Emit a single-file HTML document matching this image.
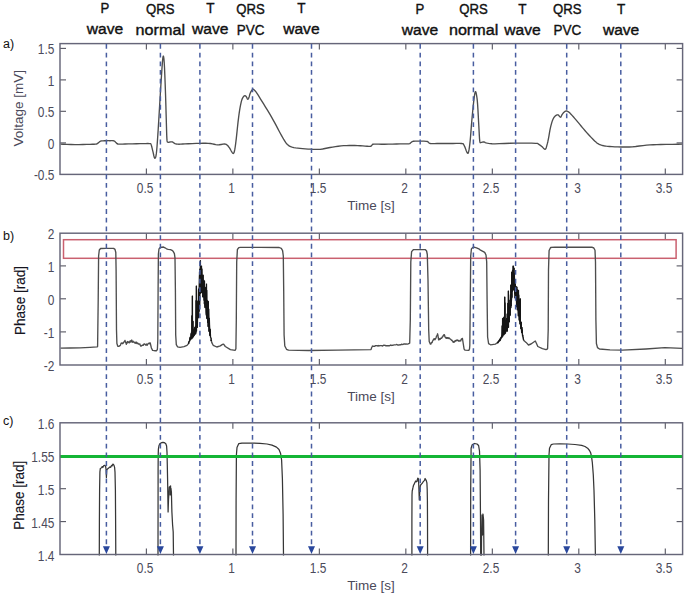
<!DOCTYPE html>
<html><head><meta charset="utf-8"><title>ECG phase figure</title>
<style>html,body{margin:0;padding:0;background:#fff;width:685px;height:595px;overflow:hidden}svg{display:block}</style>
</head><body>
<svg width="685" height="595" viewBox="0 0 685 595">
<rect width="100%" height="100%" fill="#fff"/>
<line x1="146.38" y1="174.40" x2="146.38" y2="168.40" stroke="#555560" stroke-width="1.1"/>
<line x1="146.38" y1="43.60" x2="146.38" y2="49.60" stroke="#555560" stroke-width="1.1"/>
<line x1="232.87" y1="174.40" x2="232.87" y2="168.40" stroke="#555560" stroke-width="1.1"/>
<line x1="232.87" y1="43.60" x2="232.87" y2="49.60" stroke="#555560" stroke-width="1.1"/>
<line x1="319.35" y1="174.40" x2="319.35" y2="168.40" stroke="#555560" stroke-width="1.1"/>
<line x1="319.35" y1="43.60" x2="319.35" y2="49.60" stroke="#555560" stroke-width="1.1"/>
<line x1="405.84" y1="174.40" x2="405.84" y2="168.40" stroke="#555560" stroke-width="1.1"/>
<line x1="405.84" y1="43.60" x2="405.84" y2="49.60" stroke="#555560" stroke-width="1.1"/>
<line x1="492.32" y1="174.40" x2="492.32" y2="168.40" stroke="#555560" stroke-width="1.1"/>
<line x1="492.32" y1="43.60" x2="492.32" y2="49.60" stroke="#555560" stroke-width="1.1"/>
<line x1="578.81" y1="174.40" x2="578.81" y2="168.40" stroke="#555560" stroke-width="1.1"/>
<line x1="578.81" y1="43.60" x2="578.81" y2="49.60" stroke="#555560" stroke-width="1.1"/>
<line x1="665.29" y1="174.40" x2="665.29" y2="168.40" stroke="#555560" stroke-width="1.1"/>
<line x1="665.29" y1="43.60" x2="665.29" y2="49.60" stroke="#555560" stroke-width="1.1"/>
<line x1="60.00" y1="48.40" x2="66.00" y2="48.40" stroke="#555560" stroke-width="1.1"/>
<line x1="682.60" y1="48.40" x2="676.60" y2="48.40" stroke="#555560" stroke-width="1.1"/>
<line x1="60.00" y1="79.90" x2="66.00" y2="79.90" stroke="#555560" stroke-width="1.1"/>
<line x1="682.60" y1="79.90" x2="676.60" y2="79.90" stroke="#555560" stroke-width="1.1"/>
<line x1="60.00" y1="111.30" x2="66.00" y2="111.30" stroke="#555560" stroke-width="1.1"/>
<line x1="682.60" y1="111.30" x2="676.60" y2="111.30" stroke="#555560" stroke-width="1.1"/>
<line x1="60.00" y1="142.90" x2="66.00" y2="142.90" stroke="#555560" stroke-width="1.1"/>
<line x1="682.60" y1="142.90" x2="676.60" y2="142.90" stroke="#555560" stroke-width="1.1"/>
<line x1="146.38" y1="365.00" x2="146.38" y2="359.00" stroke="#555560" stroke-width="1.1"/>
<line x1="146.38" y1="233.20" x2="146.38" y2="239.20" stroke="#555560" stroke-width="1.1"/>
<line x1="232.87" y1="365.00" x2="232.87" y2="359.00" stroke="#555560" stroke-width="1.1"/>
<line x1="232.87" y1="233.20" x2="232.87" y2="239.20" stroke="#555560" stroke-width="1.1"/>
<line x1="319.35" y1="365.00" x2="319.35" y2="359.00" stroke="#555560" stroke-width="1.1"/>
<line x1="319.35" y1="233.20" x2="319.35" y2="239.20" stroke="#555560" stroke-width="1.1"/>
<line x1="405.84" y1="365.00" x2="405.84" y2="359.00" stroke="#555560" stroke-width="1.1"/>
<line x1="405.84" y1="233.20" x2="405.84" y2="239.20" stroke="#555560" stroke-width="1.1"/>
<line x1="492.32" y1="365.00" x2="492.32" y2="359.00" stroke="#555560" stroke-width="1.1"/>
<line x1="492.32" y1="233.20" x2="492.32" y2="239.20" stroke="#555560" stroke-width="1.1"/>
<line x1="578.81" y1="365.00" x2="578.81" y2="359.00" stroke="#555560" stroke-width="1.1"/>
<line x1="578.81" y1="233.20" x2="578.81" y2="239.20" stroke="#555560" stroke-width="1.1"/>
<line x1="665.29" y1="365.00" x2="665.29" y2="359.00" stroke="#555560" stroke-width="1.1"/>
<line x1="665.29" y1="233.20" x2="665.29" y2="239.20" stroke="#555560" stroke-width="1.1"/>
<line x1="60.00" y1="265.90" x2="66.00" y2="265.90" stroke="#555560" stroke-width="1.1"/>
<line x1="682.60" y1="265.90" x2="676.60" y2="265.90" stroke="#555560" stroke-width="1.1"/>
<line x1="60.00" y1="298.80" x2="66.00" y2="298.80" stroke="#555560" stroke-width="1.1"/>
<line x1="682.60" y1="298.80" x2="676.60" y2="298.80" stroke="#555560" stroke-width="1.1"/>
<line x1="60.00" y1="331.90" x2="66.00" y2="331.90" stroke="#555560" stroke-width="1.1"/>
<line x1="682.60" y1="331.90" x2="676.60" y2="331.90" stroke="#555560" stroke-width="1.1"/>
<line x1="146.38" y1="554.50" x2="146.38" y2="548.50" stroke="#555560" stroke-width="1.1"/>
<line x1="146.38" y1="422.80" x2="146.38" y2="428.80" stroke="#555560" stroke-width="1.1"/>
<line x1="232.87" y1="554.50" x2="232.87" y2="548.50" stroke="#555560" stroke-width="1.1"/>
<line x1="232.87" y1="422.80" x2="232.87" y2="428.80" stroke="#555560" stroke-width="1.1"/>
<line x1="319.35" y1="554.50" x2="319.35" y2="548.50" stroke="#555560" stroke-width="1.1"/>
<line x1="319.35" y1="422.80" x2="319.35" y2="428.80" stroke="#555560" stroke-width="1.1"/>
<line x1="405.84" y1="554.50" x2="405.84" y2="548.50" stroke="#555560" stroke-width="1.1"/>
<line x1="405.84" y1="422.80" x2="405.84" y2="428.80" stroke="#555560" stroke-width="1.1"/>
<line x1="492.32" y1="554.50" x2="492.32" y2="548.50" stroke="#555560" stroke-width="1.1"/>
<line x1="492.32" y1="422.80" x2="492.32" y2="428.80" stroke="#555560" stroke-width="1.1"/>
<line x1="578.81" y1="554.50" x2="578.81" y2="548.50" stroke="#555560" stroke-width="1.1"/>
<line x1="578.81" y1="422.80" x2="578.81" y2="428.80" stroke="#555560" stroke-width="1.1"/>
<line x1="665.29" y1="554.50" x2="665.29" y2="548.50" stroke="#555560" stroke-width="1.1"/>
<line x1="665.29" y1="422.80" x2="665.29" y2="428.80" stroke="#555560" stroke-width="1.1"/>
<line x1="60.00" y1="455.80" x2="66.00" y2="455.80" stroke="#555560" stroke-width="1.1"/>
<line x1="682.60" y1="455.80" x2="676.60" y2="455.80" stroke="#555560" stroke-width="1.1"/>
<line x1="60.00" y1="488.70" x2="66.00" y2="488.70" stroke="#555560" stroke-width="1.1"/>
<line x1="682.60" y1="488.70" x2="676.60" y2="488.70" stroke="#555560" stroke-width="1.1"/>
<line x1="60.00" y1="521.60" x2="66.00" y2="521.60" stroke="#555560" stroke-width="1.1"/>
<line x1="682.60" y1="521.60" x2="676.60" y2="521.60" stroke="#555560" stroke-width="1.1"/>
<rect x="63.5" y="239.7" width="612.6" height="18.6" fill="none" stroke="#c9606f" stroke-width="1.5"/>
<polyline points="60.50,143.80 63.09,143.89 66.81,144.02 71.00,144.14 75.00,144.20 78.91,144.17 83.00,144.09 86.84,143.99 90.00,143.90 92.33,143.85 94.06,143.82 95.39,143.75 96.50,143.60 97.32,143.33 97.78,142.97 98.11,142.58 98.50,142.20 98.99,141.83 99.47,141.44 99.96,141.08 100.50,140.80 100.98,140.62 101.44,140.52 102.05,140.46 103.00,140.40 104.50,140.35 106.41,140.31 108.36,140.30 110.00,140.30 111.26,140.29 112.31,140.29 113.21,140.34 114.00,140.50 114.64,140.83 115.12,141.27 115.55,141.76 116.00,142.20 116.38,142.60 116.69,143.01 117.15,143.36 118.00,143.60 119.21,143.71 120.69,143.71 122.57,143.65 125.00,143.60 128.32,143.54 132.34,143.46 136.45,143.37 140.00,143.30 142.94,143.23 145.58,143.15 147.80,143.12 149.50,143.20 150.47,143.29 150.83,143.41 150.95,143.74 151.20,144.50 151.65,145.87 152.10,147.69 152.55,149.67 153.00,151.50 153.43,153.37 153.86,155.36 154.28,156.99 154.70,157.80 155.11,157.80 155.51,157.20 155.91,155.82 156.30,153.50 156.68,150.13 157.04,145.82 157.41,140.72 157.80,135.00 158.23,128.44 158.68,121.06 159.14,113.29 159.60,105.60 160.08,97.75 160.57,89.62 161.05,81.83 161.50,75.00 161.91,68.96 162.29,63.49 162.66,59.15 163.00,56.50 163.32,55.66 163.62,56.34 163.91,58.48 164.20,62.00 164.51,67.37 164.82,74.47 165.12,82.33 165.40,90.00 165.65,97.63 165.89,105.59 166.10,113.26 166.30,120.00 166.46,125.79 166.60,130.92 166.74,135.21 166.90,138.50 167.07,140.48 167.25,141.32 167.48,141.58 167.80,141.80 168.26,141.99 168.81,141.91 169.41,141.72 170.00,141.60 170.56,141.53 171.12,141.43 171.69,141.40 172.30,141.50 172.93,141.82 173.58,142.31 174.27,142.81 175.00,143.20 175.73,143.45 176.46,143.62 177.31,143.74 178.40,143.80 179.63,143.80 180.98,143.72 182.69,143.62 185.00,143.50 188.24,143.35 192.21,143.17 196.29,143.00 199.90,142.90 202.92,142.87 205.64,142.88 208.12,142.95 210.40,143.10 212.40,143.42 214.12,143.87 215.73,144.28 217.40,144.50 219.25,144.39 221.17,144.07 222.96,143.75 224.40,143.60 225.36,143.67 225.98,143.86 226.46,144.17 227.00,144.60 227.64,145.17 228.27,145.86 228.89,146.65 229.50,147.50 230.10,148.48 230.70,149.59 231.27,150.65 231.80,151.50 232.28,152.18 232.71,152.75 233.12,153.07 233.50,153.00 233.85,152.55 234.16,151.78 234.47,150.62 234.80,149.00 235.16,146.86 235.53,144.25 235.91,141.27 236.30,138.00 236.71,134.26 237.14,130.06 237.58,125.84 238.00,122.00 238.40,118.66 238.79,115.59 239.18,112.73 239.60,110.00 240.06,107.32 240.54,104.75 241.03,102.43 241.50,100.50 241.96,99.05 242.41,97.98 242.86,97.17 243.30,96.50 243.74,95.94 244.17,95.57 244.59,95.36 245.00,95.30 245.40,95.43 245.79,95.74 246.16,96.15 246.50,96.60 246.80,97.17 247.07,97.86 247.33,98.47 247.60,98.80 247.89,98.81 248.18,98.59 248.48,98.16 248.80,97.50 249.14,96.50 249.48,95.19 249.86,93.82 250.30,92.60 250.83,91.51 251.43,90.44 252.03,89.56 252.60,89.00 253.09,88.83 253.54,88.97 253.99,89.33 254.50,89.80 255.02,90.32 255.56,90.95 256.19,91.81 257.00,93.00 258.03,94.59 259.23,96.51 260.56,98.68 262.00,101.00 263.60,103.56 265.36,106.38 267.14,109.25 268.80,112.00 270.30,114.54 271.71,116.99 273.09,119.45 274.50,122.00 276.00,124.79 277.55,127.73 279.05,130.58 280.40,133.10 281.58,135.23 282.63,137.09 283.59,138.74 284.50,140.20 285.29,141.45 285.97,142.48 286.66,143.37 287.50,144.20 288.46,144.98 289.49,145.68 290.68,146.28 292.10,146.80 293.78,147.21 295.66,147.51 297.74,147.76 300.00,148.00 302.53,148.24 305.31,148.47 308.13,148.66 310.80,148.80 313.24,148.92 315.56,149.01 317.85,149.03 320.20,148.90 322.59,148.58 325.00,148.11 327.46,147.58 330.00,147.10 332.67,146.66 335.43,146.21 338.23,145.81 341.00,145.50 343.73,145.30 346.46,145.17 349.18,145.12 351.90,145.10 354.70,145.14 357.56,145.25 360.31,145.38 362.80,145.50 365.04,145.65 367.10,145.83 368.88,145.95 370.30,145.90 371.22,145.59 371.72,145.10 372.04,144.58 372.40,144.20 372.62,144.00 372.66,143.89 372.97,143.84 374.00,143.80 375.93,143.78 378.49,143.79 381.49,143.81 384.70,143.80 388.35,143.74 392.47,143.66 396.52,143.57 400.00,143.50 402.82,143.48 405.25,143.49 407.25,143.48 408.80,143.40 409.72,143.24 410.08,143.03 410.22,142.78 410.50,142.50 410.97,142.16 411.45,141.76 411.96,141.38 412.50,141.10 412.88,140.94 413.17,140.86 413.74,140.82 415.00,140.80 417.42,140.77 420.67,140.76 423.91,140.80 426.30,140.90 427.49,141.10 427.98,141.39 428.18,141.70 428.50,142.00 428.85,142.30 429.07,142.62 429.51,142.90 430.50,143.10 432.22,143.18 434.47,143.17 436.98,143.13 439.50,143.10 442.00,143.10 444.60,143.10 447.28,143.10 450.00,143.10 453.00,143.08 456.23,143.04 459.18,143.04 461.40,143.10 462.59,143.21 463.06,143.35 463.23,143.59 463.50,144.00 463.92,144.59 464.30,145.33 464.68,146.21 465.10,147.20 465.61,148.50 466.16,150.06 466.71,151.48 467.20,152.40 467.59,152.85 467.93,152.99 468.25,152.61 468.60,151.50 468.99,149.56 469.39,146.93 469.80,143.70 470.20,140.00 470.59,135.66 470.97,130.69 471.37,125.45 471.80,120.30 472.28,115.04 472.81,109.57 473.33,104.44 473.80,100.20 474.22,96.93 474.60,94.35 474.96,92.50 475.30,91.40 475.62,91.19 475.93,91.81 476.21,93.00 476.50,94.50 476.78,96.11 477.04,98.01 477.31,100.53 477.60,104.00 477.92,109.01 478.26,115.22 478.60,121.57 478.90,127.00 479.14,131.44 479.34,135.38 479.55,138.62 479.80,141.00 480.08,142.20 480.39,142.40 480.75,142.15 481.20,142.00 481.77,141.96 482.42,141.79 483.15,141.62 483.90,141.60 484.60,141.80 485.29,142.14 486.13,142.50 487.30,142.80 488.62,143.02 490.08,143.22 492.07,143.36 495.00,143.40 499.26,143.30 504.54,143.08 510.20,142.84 515.60,142.70 521.02,142.67 526.65,142.70 531.73,142.78 535.50,142.90 537.44,143.05 538.06,143.24 538.15,143.48 538.50,143.80 539.23,144.20 539.96,144.66 540.70,145.20 541.50,145.80 542.42,146.67 543.42,147.75 544.39,148.63 545.20,148.90 545.79,148.39 546.23,147.33 546.61,145.96 547.00,144.50 547.41,142.99 547.81,141.32 548.20,139.49 548.60,137.50 549.01,135.27 549.41,132.81 549.84,130.33 550.30,128.00 550.81,125.81 551.35,123.67 551.92,121.70 552.50,120.00 553.10,118.62 553.71,117.49 554.35,116.56 555.00,115.80 555.71,115.19 556.46,114.75 557.18,114.49 557.80,114.40 558.29,114.56 558.69,114.95 559.05,115.41 559.40,115.80 559.75,116.16 560.07,116.54 560.38,116.81 560.70,116.80 561.01,116.42 561.31,115.77 561.63,115.01 562.00,114.30 562.45,113.64 562.94,112.97 563.47,112.33 564.00,111.80 564.53,111.36 565.08,110.99 565.64,110.72 566.20,110.60 566.76,110.64 567.33,110.83 567.91,111.13 568.50,111.50 569.05,111.90 569.58,112.35 570.19,112.95 571.00,113.80 572.07,114.98 573.34,116.41 574.68,117.97 576.00,119.50 577.26,120.99 578.53,122.51 579.80,124.04 581.10,125.60 582.41,127.18 583.74,128.78 585.10,130.39 586.50,132.00 588.00,133.66 589.59,135.36 591.13,136.98 592.50,138.40 593.66,139.58 594.68,140.58 595.61,141.44 596.50,142.20 597.31,142.82 598.03,143.31 598.75,143.71 599.60,144.10 600.58,144.48 601.64,144.83 602.79,145.13 604.00,145.40 605.18,145.62 606.37,145.80 607.77,145.95 609.60,146.10 612.02,146.26 614.89,146.41 617.93,146.53 620.90,146.60 623.67,146.63 626.41,146.63 629.24,146.56 632.30,146.40 635.67,146.08 639.27,145.63 642.96,145.17 646.60,144.80 649.99,144.55 653.27,144.37 656.76,144.23 660.80,144.10 666.10,143.99 672.29,143.91 678.03,143.84 682.00,143.80" fill="none" stroke="#4d4d4d" stroke-width="1.35" stroke-linejoin="round" transform="translate(0,0.4)"/>
<polyline points="60.50,348.10 70.00,348.00 80.00,347.80 90.00,347.30 97.00,346.90 97.60,346.60 98.20,300.00 98.60,256.00 99.30,250.00 100.60,248.50 106.00,248.30 113.60,248.40 115.00,249.40 115.80,252.50 116.10,270.00 116.50,330.00 116.90,343.50 117.80,346.30 118.80,346.40 119.60,345.95 120.05,345.69 120.50,345.12 120.95,343.58 121.40,342.93 121.85,343.37 122.30,342.98 122.75,343.73 123.20,343.08 123.65,342.38 124.10,341.76 124.55,341.41 125.00,340.33 125.45,342.06 125.90,342.76 126.35,344.30 126.80,342.17 127.25,342.94 127.70,341.53 128.15,342.64 128.60,342.01 129.05,342.13 129.50,342.78 129.95,341.00 130.40,340.78 130.85,342.01 131.30,340.98 131.75,340.01 132.20,341.99 132.65,342.30 133.10,341.17 133.55,342.10 134.00,341.96 134.45,342.41 134.90,343.02 135.35,342.25 135.80,343.27 136.25,342.16 136.70,342.43 137.15,343.65 137.60,343.11 138.05,343.42 138.50,344.02 138.95,344.09 139.40,344.20 139.85,343.85 140.30,345.38 140.75,346.00 141.20,346.13 141.65,345.68 142.10,345.24 142.55,345.03 143.00,345.39 143.45,345.14 143.90,343.90 144.35,343.90 144.80,344.13 145.25,344.51 145.70,345.16 146.15,344.71 146.60,343.98 147.05,345.37 147.50,344.34 147.95,344.18 148.40,343.32 148.85,343.37 149.30,342.97 149.75,343.82 150.20,342.92 151.40,348.00 152.60,350.40 154.50,350.70 156.60,350.70 157.40,349.30 157.80,340.00 158.10,290.00 158.40,254.00 159.00,248.80 160.20,247.30 163.50,247.00 165.00,247.80 166.50,248.80 168.20,249.30 170.50,249.60 172.00,250.30 173.30,251.60 174.40,253.60 175.00,258.00 175.40,290.00 175.70,335.00 176.30,344.60 177.50,346.80 180.00,347.30 184.00,346.60 187.00,345.40 188.50,343.60 188.60,343.46 188.48,343.50 188.60,342.50 188.72,343.50 189.06,341.10 189.56,341.34 190.08,337.72 190.18,340.00 190.30,337.00 190.42,340.00 190.65,339.21 191.15,333.47 191.38,338.94 191.50,332.00 191.62,338.94 191.71,337.38 191.97,315.60 192.38,337.93 192.28,338.00 192.40,296.00 192.52,338.00 192.95,321.15 193.08,337.00 193.20,330.00 193.32,337.00 193.42,336.41 193.98,329.16 194.27,335.59 194.68,327.47 195.01,334.32 195.45,326.98 195.38,333.75 195.50,326.00 195.62,333.75 195.89,332.59 196.15,300.41 196.28,331.13 196.40,286.00 196.52,331.13 196.47,326.05 196.82,302.47 197.08,327.40 197.20,311.00 197.32,327.40 197.38,325.81 197.89,300.86 198.19,317.99 198.38,316.67 198.50,290.00 198.62,316.67 198.71,288.83 199.01,311.45 199.47,275.51 199.38,305.33 199.50,272.00 199.62,305.33 199.77,298.62 200.02,268.84 200.28,293.33 200.40,260.60 200.52,293.33 200.56,291.91 200.89,266.30 201.21,292.17 201.38,292.67 201.50,266.00 201.62,292.67 201.79,268.78 202.34,292.64 202.69,275.61 202.88,297.00 203.00,275.00 203.12,297.00 203.26,297.15 203.69,280.22 204.17,300.50 204.49,281.83 204.38,303.75 204.50,281.00 204.62,303.75 205.06,306.08 205.08,307.60 205.20,288.00 205.32,307.60 205.55,287.41 206.12,312.54 206.38,315.25 206.50,284.00 206.62,315.25 206.68,290.11 206.88,318.50 207.00,300.00 207.12,318.50 207.03,317.14 207.40,302.93 207.71,322.68 208.01,301.31 208.28,323.55 208.18,326.60 208.30,301.50 208.42,326.60 208.64,309.01 209.09,330.10 209.08,331.40 209.20,318.00 209.32,331.40 209.35,320.13 209.83,333.82 209.98,335.67 210.10,329.00 210.22,335.67 210.19,330.45 210.55,337.40 211.07,338.03 211.18,341.00 211.30,340.00 211.42,341.00 211.80,342.60 213.20,345.30 216.80,347.00 220.30,345.90 222.50,344.40 223.60,344.20 225.30,346.50 230.40,349.60 235.20,350.30 235.90,348.80 236.30,320.00 236.70,262.00 237.40,249.50 238.80,247.60 240.50,247.30 260.00,247.30 279.20,247.50 281.30,248.40 282.60,250.60 283.30,256.00 283.70,290.00 284.10,335.00 284.80,346.00 286.50,349.30 288.50,350.20 308.40,350.50 337.60,350.20 371.00,349.60 371.60,347.80 372.20,346.50 372.40,345.98 373.10,346.33 373.80,346.29 374.50,346.41 375.20,345.77 375.90,345.78 376.60,345.67 377.30,345.70 378.00,346.13 378.70,345.55 379.40,345.87 380.10,345.55 380.80,345.59 381.50,345.68 382.20,346.01 382.90,345.76 383.60,345.19 384.30,345.39 385.00,345.24 385.70,345.86 386.40,345.77 387.10,345.73 387.80,345.71 388.50,345.60 389.20,345.75 389.90,345.57 390.60,345.04 391.30,345.53 392.00,345.15 392.70,345.34 393.40,345.11 394.10,344.94 394.80,344.83 395.50,344.84 396.20,344.68 396.90,344.45 397.60,345.04 398.30,344.96 399.00,345.08 399.70,344.76 400.40,344.59 401.10,344.71 401.80,344.11 402.50,344.55 403.20,344.28 403.90,343.99 404.60,343.96 405.30,344.20 406.00,343.91 406.70,344.04 407.40,344.12 408.10,343.88 408.80,343.59 409.70,343.20 410.30,320.00 410.80,262.00 411.60,251.60 413.30,249.70 425.20,249.60 426.60,251.00 427.30,254.50 428.00,280.00 428.70,330.00 429.20,341.50 429.90,343.03 430.25,344.03 430.60,344.08 430.95,344.05 431.30,342.87 431.65,342.47 432.00,342.59 432.35,341.84 432.70,340.75 433.05,340.54 433.40,339.53 433.75,339.33 434.10,338.59 434.45,338.89 434.80,339.88 435.15,339.40 435.50,338.59 435.85,338.41 436.20,337.36 436.55,335.94 436.90,335.66 437.25,335.10 437.60,333.80 437.95,335.37 438.30,337.99 438.65,339.91 439.00,339.16 439.35,338.86 439.70,339.42 440.05,338.56 440.40,339.09 440.75,338.25 441.10,338.28 441.45,338.42 441.80,338.02 442.15,336.87 442.50,336.98 442.85,336.57 443.20,335.57 443.55,335.00 443.90,335.48 444.25,334.58 444.60,335.22 444.95,336.80 445.30,337.14 445.65,337.97 446.00,337.75 446.35,337.41 446.70,338.40 447.05,337.63 447.40,337.91 447.75,337.65 448.10,338.55 448.45,337.85 448.80,338.39 449.15,337.92 449.50,338.44 449.85,338.77 450.20,338.94 450.55,339.20 450.90,339.58 451.25,339.87 451.60,340.41 451.95,340.16 452.30,340.92 452.65,340.93 453.00,341.97 453.35,342.35 453.70,341.60 454.05,341.57 454.40,341.97 454.75,341.54 455.10,340.60 455.45,341.14 455.80,341.18 456.15,340.38 456.50,340.12 456.85,340.21 457.20,340.59 457.55,340.00 457.90,340.27 458.25,340.36 458.60,341.11 458.95,341.14 459.30,341.11 459.65,341.01 460.00,340.33 460.35,340.40 460.70,340.95 461.05,339.99 461.40,339.06 461.75,339.27 462.10,338.44 462.45,338.52 463.30,344.00 464.10,349.10 465.10,350.20 468.80,350.40 469.50,349.00 469.80,345.50 470.30,300.00 470.70,256.00 471.40,249.00 472.80,247.40 474.10,247.20 476.50,247.80 478.80,248.80 480.50,250.20 482.40,251.20 484.70,252.40 486.00,255.00 486.70,262.00 487.10,300.00 487.60,337.00 488.60,343.60 490.50,344.80 495.30,344.20 497.50,342.50 497.70,342.96 497.58,343.00 497.70,342.20 497.82,343.00 498.06,341.79 498.36,342.17 498.83,340.69 499.11,341.37 499.54,339.65 499.92,340.47 499.88,340.50 500.00,339.00 500.12,340.50 500.19,338.75 500.61,339.24 500.88,337.46 501.27,338.21 501.55,336.08 501.58,337.53 501.70,335.70 501.82,337.53 501.83,336.96 502.23,325.67 502.48,336.25 502.60,318.50 502.72,336.25 502.76,335.08 503.05,318.66 503.38,335.04 503.68,334.75 503.80,318.00 503.92,334.75 503.84,317.20 504.41,331.29 504.58,333.80 504.70,297.00 504.82,333.80 504.86,302.61 505.24,332.71 505.28,333.10 505.40,320.00 505.52,333.10 505.82,320.09 506.09,331.00 506.63,318.59 506.98,330.56 506.88,331.25 507.00,318.00 507.12,331.25 507.28,313.82 507.57,328.04 507.93,303.08 508.28,327.33 508.40,291.00 508.52,327.33 508.45,323.43 508.77,303.61 509.08,322.00 509.20,317.00 509.32,322.00 509.21,321.66 509.68,307.31 509.88,315.33 510.00,300.00 510.12,315.33 510.06,313.15 510.49,294.69 510.77,307.83 510.88,306.00 511.00,285.00 511.12,306.00 511.04,284.84 511.36,301.53 511.68,297.47 511.80,272.00 511.92,297.47 511.84,272.53 512.24,291.50 512.59,270.06 513.04,289.26 513.08,290.00 513.20,265.90 513.32,290.00 513.45,266.56 513.80,288.87 513.88,290.00 514.00,268.00 514.12,290.00 514.32,273.01 514.80,294.21 515.14,284.49 515.08,298.00 515.20,283.60 515.32,298.00 515.58,299.12 516.01,286.40 516.56,304.22 516.68,306.93 516.80,287.00 516.92,306.93 517.05,289.18 517.40,310.01 517.98,291.89 518.28,312.47 518.38,316.00 518.50,290.30 518.62,316.00 518.67,294.78 519.18,317.12 519.28,320.20 519.40,300.40 519.52,320.20 519.48,301.19 519.89,321.40 520.16,299.10 520.08,324.07 520.20,298.70 520.32,324.07 520.64,325.15 520.98,328.87 521.10,322.00 521.22,328.87 521.15,322.35 521.59,331.34 521.78,332.71 521.90,327.30 522.02,332.71 522.14,329.68 522.49,335.21 522.58,336.14 522.70,335.00 522.82,336.14 522.98,336.55 523.43,339.27 523.48,340.00 523.60,339.90 523.72,340.00 524.40,341.00 526.10,342.40 528.50,345.00 531.00,344.00 533.50,342.20 535.30,341.00 536.50,343.50 537.80,346.50 542.40,348.70 546.00,349.60 547.60,348.80 548.20,330.00 548.50,270.00 549.10,250.50 550.60,247.50 555.00,247.20 591.80,247.20 593.80,248.00 595.00,250.30 595.50,262.00 595.90,320.00 596.40,343.50 597.50,347.60 599.50,349.00 610.00,349.80 622.40,350.10 645.90,349.00 664.80,347.70 682.40,348.40" fill="none" stroke="#4d4d4d" stroke-width="1.35" stroke-linejoin="round"/>
<polyline points="188.60,343.46 188.48,343.50 188.60,342.50 188.72,343.50 189.06,341.10 189.56,341.34 190.08,337.72 190.18,340.00 190.30,337.00 190.42,340.00 190.65,339.21 191.15,333.47 191.38,338.94 191.50,332.00 191.62,338.94 191.71,337.38 191.97,315.60 192.38,337.93 192.28,338.00 192.40,296.00 192.52,338.00 192.95,321.15 193.08,337.00 193.20,330.00 193.32,337.00 193.42,336.41 193.98,329.16 194.27,335.59 194.68,327.47 195.01,334.32 195.45,326.98 195.38,333.75 195.50,326.00 195.62,333.75 195.89,332.59 196.15,300.41 196.28,331.13 196.40,286.00 196.52,331.13 196.47,326.05 196.82,302.47 197.08,327.40 197.20,311.00 197.32,327.40 197.38,325.81 197.89,300.86 198.19,317.99 198.38,316.67 198.50,290.00 198.62,316.67 198.71,288.83 199.01,311.45 199.47,275.51 199.38,305.33 199.50,272.00 199.62,305.33 199.77,298.62 200.02,268.84 200.28,293.33 200.40,260.60 200.52,293.33 200.56,291.91 200.89,266.30 201.21,292.17 201.38,292.67 201.50,266.00 201.62,292.67 201.79,268.78 202.34,292.64 202.69,275.61 202.88,297.00 203.00,275.00 203.12,297.00 203.26,297.15 203.69,280.22 204.17,300.50 204.49,281.83 204.38,303.75 204.50,281.00 204.62,303.75 205.06,306.08 205.08,307.60 205.20,288.00 205.32,307.60 205.55,287.41 206.12,312.54 206.38,315.25 206.50,284.00 206.62,315.25 206.68,290.11 206.88,318.50 207.00,300.00 207.12,318.50 207.03,317.14 207.40,302.93 207.71,322.68 208.01,301.31 208.28,323.55 208.18,326.60 208.30,301.50 208.42,326.60 208.64,309.01 209.09,330.10 209.08,331.40 209.20,318.00 209.32,331.40 209.35,320.13 209.83,333.82 209.98,335.67 210.10,329.00 210.22,335.67 210.19,330.45 210.55,337.40 211.07,338.03 211.18,341.00 211.30,340.00 211.42,341.00" fill="none" stroke="#151515" stroke-width="1.0" stroke-linejoin="round"/>
<polyline points="497.70,342.96 497.58,343.00 497.70,342.20 497.82,343.00 498.06,341.79 498.36,342.17 498.83,340.69 499.11,341.37 499.54,339.65 499.92,340.47 499.88,340.50 500.00,339.00 500.12,340.50 500.19,338.75 500.61,339.24 500.88,337.46 501.27,338.21 501.55,336.08 501.58,337.53 501.70,335.70 501.82,337.53 501.83,336.96 502.23,325.67 502.48,336.25 502.60,318.50 502.72,336.25 502.76,335.08 503.05,318.66 503.38,335.04 503.68,334.75 503.80,318.00 503.92,334.75 503.84,317.20 504.41,331.29 504.58,333.80 504.70,297.00 504.82,333.80 504.86,302.61 505.24,332.71 505.28,333.10 505.40,320.00 505.52,333.10 505.82,320.09 506.09,331.00 506.63,318.59 506.98,330.56 506.88,331.25 507.00,318.00 507.12,331.25 507.28,313.82 507.57,328.04 507.93,303.08 508.28,327.33 508.40,291.00 508.52,327.33 508.45,323.43 508.77,303.61 509.08,322.00 509.20,317.00 509.32,322.00 509.21,321.66 509.68,307.31 509.88,315.33 510.00,300.00 510.12,315.33 510.06,313.15 510.49,294.69 510.77,307.83 510.88,306.00 511.00,285.00 511.12,306.00 511.04,284.84 511.36,301.53 511.68,297.47 511.80,272.00 511.92,297.47 511.84,272.53 512.24,291.50 512.59,270.06 513.04,289.26 513.08,290.00 513.20,265.90 513.32,290.00 513.45,266.56 513.80,288.87 513.88,290.00 514.00,268.00 514.12,290.00 514.32,273.01 514.80,294.21 515.14,284.49 515.08,298.00 515.20,283.60 515.32,298.00 515.58,299.12 516.01,286.40 516.56,304.22 516.68,306.93 516.80,287.00 516.92,306.93 517.05,289.18 517.40,310.01 517.98,291.89 518.28,312.47 518.38,316.00 518.50,290.30 518.62,316.00 518.67,294.78 519.18,317.12 519.28,320.20 519.40,300.40 519.52,320.20 519.48,301.19 519.89,321.40 520.16,299.10 520.08,324.07 520.20,298.70 520.32,324.07 520.64,325.15 520.98,328.87 521.10,322.00 521.22,328.87 521.15,322.35 521.59,331.34 521.78,332.71 521.90,327.30 522.02,332.71 522.14,329.68 522.49,335.21 522.58,336.14 522.70,335.00 522.82,336.14 522.98,336.55 523.43,339.27 523.48,340.00 523.60,339.90 523.72,340.00" fill="none" stroke="#151515" stroke-width="1.0" stroke-linejoin="round"/>
<polyline points="99.30,555.50 99.40,520.00 99.60,490.00 99.90,472.00 100.30,468.50 100.80,468.20 101.50,467.60 102.20,466.60 102.80,467.50 103.70,465.70 104.90,465.30 105.60,466.20 106.10,470.00 106.40,477.50 106.80,470.00 107.50,469.00 108.10,468.50 109.00,467.80 109.90,466.80 110.60,467.40 111.60,465.30 112.20,465.80 112.80,464.10 113.50,464.60 114.00,465.30 114.60,467.40 115.00,472.00 115.40,490.00 115.60,520.00 115.80,555.50" fill="none" stroke="#363636" stroke-width="1.25" stroke-linejoin="round"/>
<polyline points="158.00,555.50 158.10,470.00 158.20,455.00 158.40,449.00 159.00,445.50 160.00,443.60 161.50,442.70 163.00,442.40 164.50,442.70 165.80,443.80 166.60,446.00 167.00,452.00 167.30,465.00 167.60,480.00 167.70,486.00 167.90,500.00 168.10,512.00 168.50,500.00 169.30,487.00 170.00,486.50 170.60,486.00 170.20,495.00 170.90,488.00 171.40,492.00 171.90,512.00 172.60,525.00 173.20,532.00 173.50,555.50" fill="none" stroke="#363636" stroke-width="1.25" stroke-linejoin="round"/>
<polyline points="236.00,555.50 236.10,500.00 236.40,455.00 237.00,447.50 238.80,443.60 242.00,443.10 252.90,443.10 260.00,443.40 267.00,444.00 272.00,445.20 276.50,447.10 279.00,449.50 280.60,453.50 281.60,460.00 282.40,478.80 283.10,514.00 283.50,555.50" fill="none" stroke="#363636" stroke-width="1.25" stroke-linejoin="round"/>
<polyline points="411.90,555.50 411.90,520.00 412.00,495.00 412.20,491.00 412.70,489.00 413.10,487.00 413.60,485.00 414.20,484.20 414.80,482.60 415.70,481.00 416.30,481.80 416.90,481.50 417.40,479.50 417.80,478.20 418.40,478.80 418.80,486.00 419.30,500.00 419.80,492.00 420.40,485.30 421.20,484.50 421.90,483.50 422.50,483.00 423.10,481.80 424.20,480.60 424.70,480.00 425.10,478.50 425.70,479.50 426.30,480.60 426.90,482.90 427.20,489.40 427.40,500.00 427.50,520.00 427.60,555.50" fill="none" stroke="#363636" stroke-width="1.25" stroke-linejoin="round"/>
<polyline points="470.60,555.50 470.70,490.00 471.10,448.20 472.20,444.80 474.60,443.50 477.00,444.00 478.60,445.50 479.50,451.00 480.10,470.00 480.50,520.00 480.70,555.50" fill="none" stroke="#363636" stroke-width="1.25" stroke-linejoin="round"/>
<polyline points="481.40,555.50 481.60,530.00 482.00,515.00 482.50,535.00 483.00,514.00 483.60,520.00 484.00,555.50" fill="none" stroke="#363636" stroke-width="1.25" stroke-linejoin="round"/>
<polyline points="548.30,555.50 548.50,500.00 549.00,455.00 549.50,448.20 551.20,444.70 553.50,444.00 560.00,443.90 567.60,444.00 575.00,444.50 581.70,445.40 585.00,446.50 587.60,448.20 589.50,450.50 590.70,452.90 591.60,457.00 592.30,462.30 593.30,475.00 594.00,490.60 594.80,520.00 595.40,555.50" fill="none" stroke="#363636" stroke-width="1.25" stroke-linejoin="round"/>
<line x1="60.00" y1="456.5" x2="682.60" y2="456.5" stroke="#14b535" stroke-width="2.8"/>
<rect x="60.00" y="43.60" width="622.60" height="130.80" fill="none" stroke="#666679" stroke-width="1.45"/>
<rect x="60.00" y="233.20" width="622.60" height="131.80" fill="none" stroke="#666679" stroke-width="1.45"/>
<rect x="60.00" y="422.80" width="622.60" height="131.70" fill="none" stroke="#666679" stroke-width="1.45"/>
<line x1="106.40" y1="44.0" x2="106.40" y2="544.2" stroke="#485da0" stroke-width="1.5" stroke-dasharray="4.8 3.89"/>
<polygon points="102.90,546.2 109.90,546.2 106.40,554.0" fill="#29479c"/>
<line x1="160.40" y1="44.0" x2="160.40" y2="544.2" stroke="#485da0" stroke-width="1.5" stroke-dasharray="4.8 3.89"/>
<polygon points="156.90,546.2 163.90,546.2 160.40,554.0" fill="#29479c"/>
<line x1="199.90" y1="44.0" x2="199.90" y2="544.2" stroke="#485da0" stroke-width="1.5" stroke-dasharray="4.8 3.89"/>
<polygon points="196.40,546.2 203.40,546.2 199.90,554.0" fill="#29479c"/>
<line x1="252.50" y1="44.0" x2="252.50" y2="544.2" stroke="#485da0" stroke-width="1.5" stroke-dasharray="4.8 3.89"/>
<polygon points="249.00,546.2 256.00,546.2 252.50,554.0" fill="#29479c"/>
<line x1="311.50" y1="44.0" x2="311.50" y2="544.2" stroke="#485da0" stroke-width="1.5" stroke-dasharray="4.8 3.89"/>
<polygon points="308.00,546.2 315.00,546.2 311.50,554.0" fill="#29479c"/>
<line x1="420.20" y1="44.0" x2="420.20" y2="544.2" stroke="#485da0" stroke-width="1.5" stroke-dasharray="4.8 3.89"/>
<polygon points="416.70,546.2 423.70,546.2 420.20,554.0" fill="#29479c"/>
<line x1="473.40" y1="44.0" x2="473.40" y2="544.2" stroke="#485da0" stroke-width="1.5" stroke-dasharray="4.8 3.89"/>
<polygon points="469.90,546.2 476.90,546.2 473.40,554.0" fill="#29479c"/>
<line x1="515.60" y1="44.0" x2="515.60" y2="544.2" stroke="#485da0" stroke-width="1.5" stroke-dasharray="4.8 3.89"/>
<polygon points="512.10,546.2 519.10,546.2 515.60,554.0" fill="#29479c"/>
<line x1="566.70" y1="44.0" x2="566.70" y2="544.2" stroke="#485da0" stroke-width="1.5" stroke-dasharray="4.8 3.89"/>
<polygon points="563.20,546.2 570.20,546.2 566.70,554.0" fill="#29479c"/>
<line x1="620.80" y1="44.0" x2="620.80" y2="544.2" stroke="#485da0" stroke-width="1.5" stroke-dasharray="4.8 3.89"/>
<polygon points="617.30,546.2 624.30,546.2 620.80,554.0" fill="#29479c"/>
<text x="105.00" y="12.90" font-family="Liberation Sans, sans-serif" font-size="15.30" text-anchor="middle" fill="#111" stroke="#111" stroke-width="0.4" textLength="8.80" lengthAdjust="spacingAndGlyphs">P</text>
<text x="105.00" y="33.90" font-family="Liberation Sans, sans-serif" font-size="15.30" text-anchor="middle" fill="#111" stroke="#111" stroke-width="0.4" textLength="36.40" lengthAdjust="spacingAndGlyphs">wave</text>
<text x="160.30" y="13.90" font-family="Liberation Sans, sans-serif" font-size="15.30" text-anchor="middle" fill="#111" stroke="#111" stroke-width="0.4" textLength="28.50" lengthAdjust="spacingAndGlyphs">QRS</text>
<text x="160.30" y="35.30" font-family="Liberation Sans, sans-serif" font-size="15.30" text-anchor="middle" fill="#111" stroke="#111" stroke-width="0.4" textLength="49.40" lengthAdjust="spacingAndGlyphs">normal</text>
<text x="210.30" y="12.90" font-family="Liberation Sans, sans-serif" font-size="15.30" text-anchor="middle" fill="#111" stroke="#111" stroke-width="0.4" textLength="8.30" lengthAdjust="spacingAndGlyphs">T</text>
<text x="210.30" y="33.90" font-family="Liberation Sans, sans-serif" font-size="15.30" text-anchor="middle" fill="#111" stroke="#111" stroke-width="0.4" textLength="36.40" lengthAdjust="spacingAndGlyphs">wave</text>
<text x="250.60" y="13.90" font-family="Liberation Sans, sans-serif" font-size="15.30" text-anchor="middle" fill="#111" stroke="#111" stroke-width="0.4" textLength="28.50" lengthAdjust="spacingAndGlyphs">QRS</text>
<text x="250.60" y="35.30" font-family="Liberation Sans, sans-serif" font-size="15.30" text-anchor="middle" fill="#111" stroke="#111" stroke-width="0.4" textLength="27.70" lengthAdjust="spacingAndGlyphs">PVC</text>
<text x="301.40" y="12.90" font-family="Liberation Sans, sans-serif" font-size="15.30" text-anchor="middle" fill="#111" stroke="#111" stroke-width="0.4" textLength="8.30" lengthAdjust="spacingAndGlyphs">T</text>
<text x="301.40" y="33.90" font-family="Liberation Sans, sans-serif" font-size="15.30" text-anchor="middle" fill="#111" stroke="#111" stroke-width="0.4" textLength="36.40" lengthAdjust="spacingAndGlyphs">wave</text>
<text x="420.00" y="13.90" font-family="Liberation Sans, sans-serif" font-size="15.30" text-anchor="middle" fill="#111" stroke="#111" stroke-width="0.4" textLength="8.80" lengthAdjust="spacingAndGlyphs">P</text>
<text x="420.00" y="35.30" font-family="Liberation Sans, sans-serif" font-size="15.30" text-anchor="middle" fill="#111" stroke="#111" stroke-width="0.4" textLength="36.40" lengthAdjust="spacingAndGlyphs">wave</text>
<text x="473.60" y="13.90" font-family="Liberation Sans, sans-serif" font-size="15.30" text-anchor="middle" fill="#111" stroke="#111" stroke-width="0.4" textLength="28.50" lengthAdjust="spacingAndGlyphs">QRS</text>
<text x="473.60" y="35.30" font-family="Liberation Sans, sans-serif" font-size="15.30" text-anchor="middle" fill="#111" stroke="#111" stroke-width="0.4" textLength="49.40" lengthAdjust="spacingAndGlyphs">normal</text>
<text x="522.50" y="13.90" font-family="Liberation Sans, sans-serif" font-size="15.30" text-anchor="middle" fill="#111" stroke="#111" stroke-width="0.4" textLength="8.30" lengthAdjust="spacingAndGlyphs">T</text>
<text x="522.50" y="35.30" font-family="Liberation Sans, sans-serif" font-size="15.30" text-anchor="middle" fill="#111" stroke="#111" stroke-width="0.4" textLength="36.40" lengthAdjust="spacingAndGlyphs">wave</text>
<text x="567.30" y="13.90" font-family="Liberation Sans, sans-serif" font-size="15.30" text-anchor="middle" fill="#111" stroke="#111" stroke-width="0.4" textLength="28.50" lengthAdjust="spacingAndGlyphs">QRS</text>
<text x="567.30" y="35.30" font-family="Liberation Sans, sans-serif" font-size="15.30" text-anchor="middle" fill="#111" stroke="#111" stroke-width="0.4" textLength="27.70" lengthAdjust="spacingAndGlyphs">PVC</text>
<text x="621.10" y="13.90" font-family="Liberation Sans, sans-serif" font-size="15.30" text-anchor="middle" fill="#111" stroke="#111" stroke-width="0.4" textLength="8.30" lengthAdjust="spacingAndGlyphs">T</text>
<text x="621.10" y="35.30" font-family="Liberation Sans, sans-serif" font-size="15.30" text-anchor="middle" fill="#111" stroke="#111" stroke-width="0.4" textLength="36.40" lengthAdjust="spacingAndGlyphs">wave</text>
<text x="0" y="0" transform="translate(145.08,193.10) scale(0.850,1)" font-family="Liberation Sans, sans-serif" font-size="14.00" text-anchor="middle" fill="#4b4a5a" >0.5</text>
<text x="0" y="0" transform="translate(231.57,193.10) scale(0.850,1)" font-family="Liberation Sans, sans-serif" font-size="14.00" text-anchor="middle" fill="#4b4a5a" >1</text>
<text x="0" y="0" transform="translate(318.05,193.10) scale(0.850,1)" font-family="Liberation Sans, sans-serif" font-size="14.00" text-anchor="middle" fill="#4b4a5a" >1.5</text>
<text x="0" y="0" transform="translate(404.54,193.10) scale(0.850,1)" font-family="Liberation Sans, sans-serif" font-size="14.00" text-anchor="middle" fill="#4b4a5a" >2</text>
<text x="0" y="0" transform="translate(491.02,193.10) scale(0.850,1)" font-family="Liberation Sans, sans-serif" font-size="14.00" text-anchor="middle" fill="#4b4a5a" >2.5</text>
<text x="0" y="0" transform="translate(577.51,193.10) scale(0.850,1)" font-family="Liberation Sans, sans-serif" font-size="14.00" text-anchor="middle" fill="#4b4a5a" >3</text>
<text x="0" y="0" transform="translate(664.00,193.10) scale(0.850,1)" font-family="Liberation Sans, sans-serif" font-size="14.00" text-anchor="middle" fill="#4b4a5a" >3.5</text>
<text x="0" y="0" transform="translate(54.40,54.40) scale(0.850,1)" font-family="Liberation Sans, sans-serif" font-size="14.00" text-anchor="end" fill="#4b4a5a" >1.5</text>
<text x="0" y="0" transform="translate(54.40,85.90) scale(0.850,1)" font-family="Liberation Sans, sans-serif" font-size="14.00" text-anchor="end" fill="#4b4a5a" >1</text>
<text x="0" y="0" transform="translate(54.40,117.30) scale(0.850,1)" font-family="Liberation Sans, sans-serif" font-size="14.00" text-anchor="end" fill="#4b4a5a" >0.5</text>
<text x="0" y="0" transform="translate(54.40,148.90) scale(0.850,1)" font-family="Liberation Sans, sans-serif" font-size="14.00" text-anchor="end" fill="#4b4a5a" >0</text>
<text x="0" y="0" transform="translate(54.40,180.40) scale(0.850,1)" font-family="Liberation Sans, sans-serif" font-size="14.00" text-anchor="end" fill="#4b4a5a" >-0.5</text>
<text x="371.00" y="210.20" font-family="Liberation Sans, sans-serif" font-size="13.50" text-anchor="middle" fill="#4b4a5a" >Time [s]</text>
<text x="0" y="0" transform="translate(145.08,383.70) scale(0.850,1)" font-family="Liberation Sans, sans-serif" font-size="14.00" text-anchor="middle" fill="#4b4a5a" >0.5</text>
<text x="0" y="0" transform="translate(231.57,383.70) scale(0.850,1)" font-family="Liberation Sans, sans-serif" font-size="14.00" text-anchor="middle" fill="#4b4a5a" >1</text>
<text x="0" y="0" transform="translate(318.05,383.70) scale(0.850,1)" font-family="Liberation Sans, sans-serif" font-size="14.00" text-anchor="middle" fill="#4b4a5a" >1.5</text>
<text x="0" y="0" transform="translate(404.54,383.70) scale(0.850,1)" font-family="Liberation Sans, sans-serif" font-size="14.00" text-anchor="middle" fill="#4b4a5a" >2</text>
<text x="0" y="0" transform="translate(491.02,383.70) scale(0.850,1)" font-family="Liberation Sans, sans-serif" font-size="14.00" text-anchor="middle" fill="#4b4a5a" >2.5</text>
<text x="0" y="0" transform="translate(577.51,383.70) scale(0.850,1)" font-family="Liberation Sans, sans-serif" font-size="14.00" text-anchor="middle" fill="#4b4a5a" >3</text>
<text x="0" y="0" transform="translate(664.00,383.70) scale(0.850,1)" font-family="Liberation Sans, sans-serif" font-size="14.00" text-anchor="middle" fill="#4b4a5a" >3.5</text>
<text x="0" y="0" transform="translate(54.40,239.20) scale(0.850,1)" font-family="Liberation Sans, sans-serif" font-size="14.00" text-anchor="end" fill="#4b4a5a" >2</text>
<text x="0" y="0" transform="translate(54.40,271.90) scale(0.850,1)" font-family="Liberation Sans, sans-serif" font-size="14.00" text-anchor="end" fill="#4b4a5a" >1</text>
<text x="0" y="0" transform="translate(54.40,304.80) scale(0.850,1)" font-family="Liberation Sans, sans-serif" font-size="14.00" text-anchor="end" fill="#4b4a5a" >0</text>
<text x="0" y="0" transform="translate(54.40,337.90) scale(0.850,1)" font-family="Liberation Sans, sans-serif" font-size="14.00" text-anchor="end" fill="#4b4a5a" >-1</text>
<text x="0" y="0" transform="translate(54.40,371.00) scale(0.850,1)" font-family="Liberation Sans, sans-serif" font-size="14.00" text-anchor="end" fill="#4b4a5a" >-2</text>
<text x="371.00" y="400.80" font-family="Liberation Sans, sans-serif" font-size="13.50" text-anchor="middle" fill="#4b4a5a" >Time [s]</text>
<text x="0" y="0" transform="translate(145.08,573.20) scale(0.850,1)" font-family="Liberation Sans, sans-serif" font-size="14.00" text-anchor="middle" fill="#4b4a5a" >0.5</text>
<text x="0" y="0" transform="translate(231.57,573.20) scale(0.850,1)" font-family="Liberation Sans, sans-serif" font-size="14.00" text-anchor="middle" fill="#4b4a5a" >1</text>
<text x="0" y="0" transform="translate(318.05,573.20) scale(0.850,1)" font-family="Liberation Sans, sans-serif" font-size="14.00" text-anchor="middle" fill="#4b4a5a" >1.5</text>
<text x="0" y="0" transform="translate(404.54,573.20) scale(0.850,1)" font-family="Liberation Sans, sans-serif" font-size="14.00" text-anchor="middle" fill="#4b4a5a" >2</text>
<text x="0" y="0" transform="translate(491.02,573.20) scale(0.850,1)" font-family="Liberation Sans, sans-serif" font-size="14.00" text-anchor="middle" fill="#4b4a5a" >2.5</text>
<text x="0" y="0" transform="translate(577.51,573.20) scale(0.850,1)" font-family="Liberation Sans, sans-serif" font-size="14.00" text-anchor="middle" fill="#4b4a5a" >3</text>
<text x="0" y="0" transform="translate(664.00,573.20) scale(0.850,1)" font-family="Liberation Sans, sans-serif" font-size="14.00" text-anchor="middle" fill="#4b4a5a" >3.5</text>
<text x="0" y="0" transform="translate(54.40,428.80) scale(0.850,1)" font-family="Liberation Sans, sans-serif" font-size="14.00" text-anchor="end" fill="#4b4a5a" >1.6</text>
<text x="0" y="0" transform="translate(54.40,461.80) scale(0.850,1)" font-family="Liberation Sans, sans-serif" font-size="14.00" text-anchor="end" fill="#4b4a5a" >1.55</text>
<text x="0" y="0" transform="translate(54.40,494.70) scale(0.850,1)" font-family="Liberation Sans, sans-serif" font-size="14.00" text-anchor="end" fill="#4b4a5a" >1.5</text>
<text x="0" y="0" transform="translate(54.40,527.60) scale(0.850,1)" font-family="Liberation Sans, sans-serif" font-size="14.00" text-anchor="end" fill="#4b4a5a" >1.45</text>
<text x="0" y="0" transform="translate(54.40,560.50) scale(0.850,1)" font-family="Liberation Sans, sans-serif" font-size="14.00" text-anchor="end" fill="#4b4a5a" >1.4</text>
<text x="371.00" y="590.30" font-family="Liberation Sans, sans-serif" font-size="13.50" text-anchor="middle" fill="#4b4a5a" >Time [s]</text>
<text x="0" y="0" transform="translate(23.00,108.30) rotate(-90)" font-family="Liberation Sans, sans-serif" font-size="13.50" text-anchor="middle" fill="#4b4a5a">Voltage [mV]</text>
<text x="0" y="0" transform="translate(25.00,300.40) rotate(-90)" font-family="Liberation Sans, sans-serif" font-size="14.20" text-anchor="middle" fill="#15151f" stroke="#15151f" stroke-width="0.15" textLength="69.00" lengthAdjust="spacingAndGlyphs">Phase [rad]</text>
<text x="0" y="0" transform="translate(24.30,495.20) rotate(-90)" font-family="Liberation Sans, sans-serif" font-size="14.20" text-anchor="middle" fill="#15151f" stroke="#15151f" stroke-width="0.15" textLength="69.00" lengthAdjust="spacingAndGlyphs">Phase [rad]</text>
<text x="3.00" y="47.60" font-family="Liberation Sans, sans-serif" font-size="12.50" text-anchor="start" fill="#111" >a)</text>
<text x="3.00" y="239.90" font-family="Liberation Sans, sans-serif" font-size="12.50" text-anchor="start" fill="#111" >b)</text>
<text x="3.00" y="424.60" font-family="Liberation Sans, sans-serif" font-size="12.50" text-anchor="start" fill="#111" >c)</text>
</svg>
</body></html>
